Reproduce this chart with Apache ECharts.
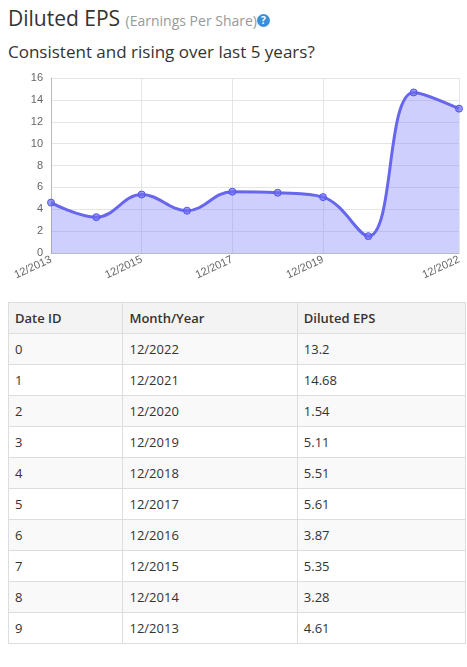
<!DOCTYPE html>
<html><head><meta charset="utf-8">
<script src="https://cdn.jsdelivr.net/npm/echarts@6/dist/echarts.min.js"></script>
<style>
body{margin:0;width:467px;height:667px;font-family:"Open Sans",sans-serif;background:#fff;color:#333;overflow:hidden}
#h1{position:absolute;left:8px;top:4px;font-size:21px;color:#333}
#h1 small{font-size:14px;color:#999}
#q{display:inline-block;width:13px;height:13px;border-radius:50%;background:#3a8fd8;color:#fff;font-size:10px;line-height:13px;text-align:center;font-weight:bold;vertical-align:2px}
#h2{position:absolute;left:8px;top:40px;font-size:17px;color:#333}
#chart{position:absolute;left:0;top:60px;width:467px;height:232px}
table{position:absolute;left:8px;top:302px;width:458px;border-collapse:collapse;font-size:13px}
td,th{border:1px solid #ddd;height:30px;padding:0 6px;text-align:left}
th{background:#f3f3f3;font-weight:600}
tr:nth-child(even) td{background:#f9f9f9}
</style></head><body>
<div id="h1">Diluted EPS <small>(Earnings Per Share)</small><span id="q">?</span></div>
<div id="h2">Consistent and rising over last 5 years?</div>
<div id="chart"></div>
<table id="tbl"></table>
<script>
const categories=["12/2013","12/2014","12/2015","12/2016","12/2017","12/2018","12/2019","12/2020","12/2021","12/2022"];
const eps=[4.61,3.28,5.35,3.87,5.61,5.51,5.11,1.54,14.68,13.2];
const headers=["Date ID","Month/Year","Diluted EPS"];
const shown=[0,2,4,6,9];
const tbl=document.getElementById('tbl');
let html='<tr>'+headers.map((h,i)=>'<th style="width:'+[102,162,156][i]+'px">'+h+'</th>').join('')+'</tr>';
for(let i=0;i<categories.length;i++){const k=categories.length-1-i;html+='<tr><td>'+i+'</td><td>'+categories[k]+'</td><td>'+eps[k]+'</td></tr>';}
tbl.innerHTML=html;
const ch=echarts.init(document.getElementById('chart'));
const f=(i)=>shown.includes(i);
ch.setOption({animation:false,
grid:{left:51,right:8,top:18,bottom:39},
xAxis:{type:'category',data:categories,boundaryGap:false,
 axisLine:{lineStyle:{color:'#bbb'}},axisTick:{show:false},
 axisLabel:{interval:f,rotate:25,color:'#666',fontSize:11,fontFamily:'Arial',margin:6},
 splitLine:{show:true,interval:f,lineStyle:{color:'#e5e5e5'}}},
yAxis:{type:'value',min:0,max:16,interval:2,
 axisLine:{show:true,lineStyle:{color:'#bbb'}},axisLabel:{color:'#666',fontSize:11,fontFamily:'Arial'},
 splitLine:{lineStyle:{color:'#e5e5e5'}}},
series:[{type:'line',data:eps,smooth:0.4,symbol:'circle',symbolSize:7,
 lineStyle:{color:'#6666ee',width:3},itemStyle:{color:'rgba(110,110,245,0.7)',borderColor:'#5555ee',borderWidth:1},
 areaStyle:{color:'rgba(130,130,250,0.55)'}}]});
</script></body></html>
